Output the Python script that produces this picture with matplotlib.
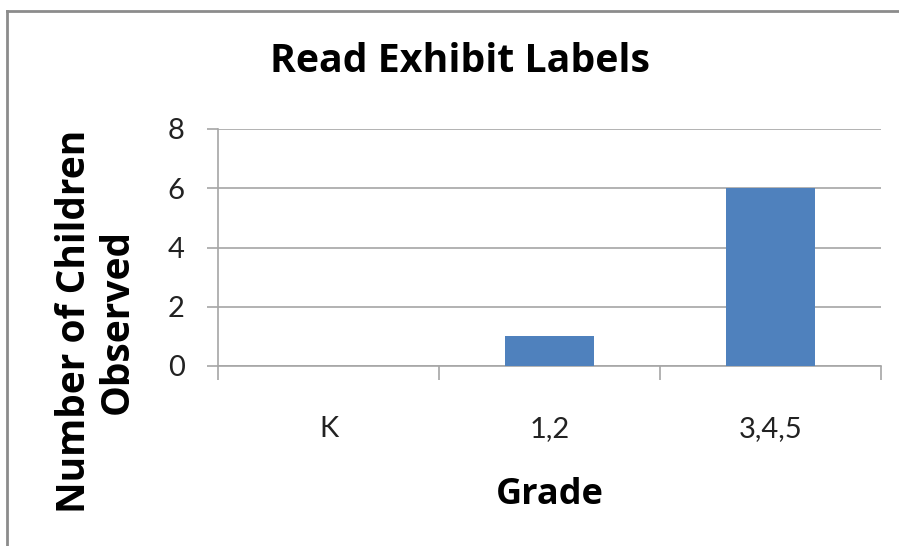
import matplotlib
matplotlib.use("Agg")
import matplotlib.pyplot as plt
from matplotlib.lines import Line2D

categories = ["K", "1,2", "3,4,5"]
values = [0, 1, 6]
yticks = [0, 2, 4, 6, 8]
title = "Read Exhibit Labels"
xlabel = "Grade"
ylabel = "Number of Children\nObserved"

plt.rcParams['font.family'] = ['Lato', 'DejaVu Sans']

W, H = 899, 546
fig = plt.figure(figsize=(W / 100, H / 100), dpi=100)
ax = fig.add_axes([218 / W, 1 - 366 / H, (881 - 218) / W, (366 - 129) / H])

x = list(range(len(categories)))
ax.bar(x, values, width=0.4, color="#4F81BD", zorder=3)
ax.set_xlim(-0.5, len(categories) - 0.5)
ax.set_ylim(0, 8)
ax.set_yticks(yticks)
ax.set_yticklabels([str(t) for t in yticks], fontsize=21, color="#222222")
ax.set_xticks(x)
ax.set_xticklabels(categories, fontsize=21, color="#222222")
ax.tick_params(axis='x', length=0, pad=36)
ax.tick_params(axis='y', length=8, width=1.2, color="#A6A6A6", pad=16)
# category boundary ticks
ax.set_xticks([i - 0.5 for i in range(len(categories) + 1)], minor=True)
ax.tick_params(axis='x', which='minor', length=10, width=1.2, color="#A6A6A6")
ax.grid(axis='y', color="#A6A6A6", linewidth=1.2, zorder=0)
for s in ['top', 'right']:
    ax.spines[s].set_visible(False)
for s in ['left', 'bottom']:
    ax.spines[s].set_color("#A6A6A6")
    ax.spines[s].set_linewidth(1.2)

bold = dict(fontweight='bold', family=['Open Sans', 'DejaVu Sans'])
fig.text(460 / W, 1 - 62 / H, title, ha='center', va='center', fontsize=28.3, **bold)
fig.text(550 / W, 1 - 495 / H, xlabel, ha='center', va='center', fontsize=26, **bold)
fig.text(96 / W, 1 - 321 / H, ylabel, ha='center', va='center', rotation=90,
         fontsize=28, linespacing=1.12, **bold)

# outer border (left and top visible)
fig.add_artist(Line2D([7 / W, 7 / W], [0, 1 - 11 / H], transform=fig.transFigure, color="#8C8C8C", lw=2))
fig.add_artist(Line2D([7 / W, 1], [1 - 11 / H, 1 - 11 / H], transform=fig.transFigure, color="#8C8C8C", lw=2))

fig.savefig("out.png", dpi=100)
